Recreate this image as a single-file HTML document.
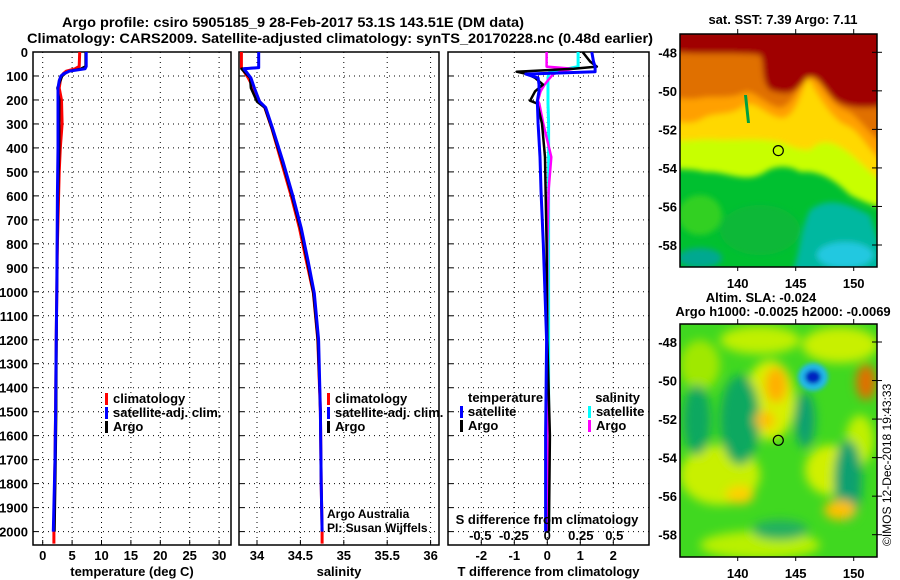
<!DOCTYPE html>
<html><head><meta charset="utf-8"><style>
body{margin:0;background:#fff;}
svg{display:block;font-family:"Liberation Sans",Arial,sans-serif;}
.t{font-size:13px;font-weight:bold;fill:#000;}
.grid{stroke:#000;stroke-width:1;stroke-dasharray:1,4;}
</style></head><body>
<svg id="fig" width="900" height="580" viewBox="0 0 900 580" xmlns="http://www.w3.org/2000/svg">
<defs>
<filter id="bl" x="-20%" y="-20%" width="140%" height="140%"><feGaussianBlur stdDeviation="3"/></filter>
<filter id="bl2" x="-20%" y="-20%" width="140%" height="140%"><feGaussianBlur stdDeviation="5"/></filter>
<filter id="bl3" x="-50%" y="-50%" width="200%" height="200%"><feGaussianBlur stdDeviation="2"/></filter>
<clipPath id="c1"><rect x="680" y="34" width="197" height="233"/></clipPath>
<clipPath id="c2"><rect x="680" y="324" width="197" height="233"/></clipPath>
</defs>
<text x="62" y="27" textLength="462" lengthAdjust="spacingAndGlyphs" style="font-size:14px;font-weight:bold">Argo profile: csiro 5905185_9 28-Feb-2017 53.1S 143.51E (DM data)</text>
<text x="27" y="43" textLength="626" lengthAdjust="spacingAndGlyphs" style="font-size:14px;font-weight:bold">Climatology: CARS2009. Satellite-adjusted climatology: synTS_20170228.nc (0.48d earlier)</text>

<!-- SST map -->
<g clip-path="url(#c1)">
<rect x="680" y="34" width="197" height="233" fill="#00c030"/>
<g filter="url(#bl)">
<path d="M670,30 H890 V210 C870,205 860,200 850,195 C835,180 820,170 800,172 C790,165 775,165 765,172 C745,185 725,170 705,172 C690,168 680,170 670,168Z" fill="#c8ff00"/>
<path d="M670,30 H890 V185 C870,175 860,160 845,150 C830,140 820,140 810,150 C795,150 790,145 780,142 C760,138 740,140 720,140 C700,138 690,142 670,140Z" fill="#ffd800"/>
<path d="M670,30 H890 V165 C870,158 862,130 845,125 C830,118 815,90 808,78 C800,95 795,120 780,118 C765,115 755,100 745,105 C730,118 715,110 700,120 C690,125 680,122 670,120Z" fill="#ffa000"/>
<path d="M670,30 H890 V145 C870,140 860,115 845,110 C830,105 820,80 810,70 C800,80 795,105 780,108 C765,105 755,90 745,92 C730,100 715,95 700,98 C690,100 680,98 670,98Z" fill="#e07000"/>
<path d="M670,30 H890 V105 C870,108 850,110 835,100 C825,90 815,70 805,80 C795,95 785,95 770,90 C760,80 765,60 760,55 C740,52 710,55 670,52Z" fill="#a00000"/>
<path d="M810,210 C830,195 850,205 870,215 L890,280 H790 C800,255 800,230 810,210Z" fill="#00b8a0"/>
<ellipse cx="845" cy="255" rx="28" ry="13" fill="#20c8e0"/>
<ellipse cx="700" cy="258" rx="22" ry="10" fill="#00a890"/>
<ellipse cx="700" cy="215" rx="22" ry="20" fill="#30d020"/>
<ellipse cx="760" cy="230" rx="40" ry="25" fill="#10b838"/>
</g>
<path d="M744,95 l3,28 l3,0 l-3,-28z" fill="#00a040"/>
</g>
<rect x="680" y="34" width="197" height="233" fill="none" stroke="#000" stroke-width="1.5"/>
<circle cx="778.3" cy="150.6" r="5" fill="none" stroke="#000" stroke-width="1.2"/>
<text class="t" x="783" y="24" text-anchor="middle">sat. SST: 7.39 Argo: 7.11</text>

<!-- SLA map -->
<g clip-path="url(#c2)">
<rect x="680" y="324" width="197" height="233" fill="#40d820"/>
<g filter="url(#bl2)">
<ellipse cx="720" cy="475" rx="40" ry="30" fill="#c8f000"/>
<ellipse cx="760" cy="545" rx="60" ry="14" fill="#b8f000"/>
<ellipse cx="840" cy="345" rx="38" ry="18" fill="#c8f000"/>
<ellipse cx="760" cy="340" rx="40" ry="14" fill="#c0f000"/>
<ellipse cx="700" cy="365" rx="20" ry="25" fill="#a0e800"/>
<ellipse cx="830" cy="470" rx="25" ry="25" fill="#d0f000"/>
<ellipse cx="770" cy="400" rx="25" ry="40" fill="#d8f000"/>
<ellipse cx="860" cy="440" rx="14" ry="25" fill="#c0f000"/>
<ellipse cx="740" cy="420" rx="20" ry="45" fill="#10a860"/>
<ellipse cx="697" cy="420" rx="14" ry="35" fill="#10a860"/>
<ellipse cx="805" cy="420" rx="10" ry="28" fill="#10a070"/>
<ellipse cx="848" cy="480" rx="14" ry="40" fill="#10a070"/>
<ellipse cx="780" cy="530" rx="28" ry="10" fill="#20b060"/>
<ellipse cx="776" cy="385" rx="11" ry="18" fill="#ffb000"/>
<ellipse cx="765" cy="420" rx="10" ry="9" fill="#ffc000"/>
<ellipse cx="840" cy="510" rx="16" ry="10" fill="#ffc000"/>
<ellipse cx="740" cy="495" rx="14" ry="9" fill="#ffd000"/>
<ellipse cx="866" cy="382" rx="10" ry="18" fill="#e07000"/>
</g>
<g filter="url(#bl3)">
<ellipse cx="813" cy="377" rx="15" ry="14" fill="#20b8e8"/>
<ellipse cx="813" cy="377" rx="8" ry="7" fill="#0020c0"/>
</g>
</g>
<rect x="680" y="324" width="197" height="233" fill="none" stroke="#000" stroke-width="1.5"/>
<circle cx="778.3" cy="440.3" r="5" fill="none" stroke="#000" stroke-width="1.2"/>
<text class="t" x="761" y="302" text-anchor="middle">Altim. SLA: -0.024</text>
<text class="t" x="783" y="316" text-anchor="middle">Argo h1000: -0.0025 h2000: -0.0069</text>
<text x="891" y="546" transform="rotate(-90 891 546)" style="font-size:12px">©IMOS 12-Dec-2018 19:43:33</text>
<g id="mapaxes"></g>
<g id="panels"></g>
</svg>
<script>
// ---------- data ----------
const depthT = [0,60,70,80,90,100,120,150,200,300,400,500,600,800,1000,1200,1500,1700,2000];
const argoT = [7.3,7.3,6.5,4.5,3.8,3.3,3.0,2.5,2.8,2.8,2.8,2.7,2.6,2.5,2.4,2.35,2.3,2.2,2.0];
const satT = [7.4,7.4,7.2,4.5,3.6,3.1,2.8,2.6,2.6,2.6,2.6,2.55,2.5,2.45,2.4,2.3,2.2,2.1,1.8];
const climT = [6.3,6.2,5.5,4.0,3.5,3.2,3.0,2.8,3.2,3.3,3.0,2.8,2.7,2.5,2.4,2.3,2.2,2.1,1.9];
const depthS = [0,65,70,108,150,207,232,318,457,596,735,874,1006,1200,1500,1800,2000];
const argoS = [34.02,34.02,33.82,33.92,33.93,34.0,34.09,34.17,34.29,34.40,34.50,34.58,34.65,34.70,34.73,34.74,34.75];
const satS = [34.02,34.02,33.85,33.93,33.97,34.03,34.10,34.18,34.30,34.41,34.51,34.59,34.66,34.71,34.73,34.74,34.75];
const climS = [33.82,33.82,33.83,33.9,33.96,34.03,34.09,34.17,34.28,34.39,34.49,34.57,34.65,34.70,34.73,34.74,34.75];
const depthD = [0,40,61,70,82,92,108,136,164,203,215,299,438,577,800,1200,1600,2000];
const dTargo = [1.07,1.3,1.5,0.8,-0.93,-0.6,-0.37,-0.13,-0.37,-0.52,-0.3,-0.16,-0.07,-0.05,-0.02,0.0,0.08,0.05];
const dTsat = [1.35,1.4,1.45,1.45,1.45,-0.65,-0.28,-0.25,-0.25,-0.3,-0.3,-0.28,-0.22,-0.19,-0.12,-0.02,-0.05,-0.05];
const dSargo = [-0.005,-0.005,-0.005,0.19,0.1,0.045,0.02,-0.02,-0.05,-0.07,-0.06,-0.03,0.03,0.01,0.0,0.0,0.0,0.005];
const dSsat = [0.23,0.23,0.23,0.15,0.02,0.01,0.005,0.005,0.005,0.005,0.005,0.01,0.01,0.01,0.01,0.01,0.01,0.01];
const depthTicks = [0,100,200,300,400,500,600,700,800,900,1000,1100,1200,1300,1400,1500,1600,1700,1800,1900,2000];
const tTicks = [0,5,10,15,20,25,30];
const sTicks = [34,34.5,35,35.5,36];
const sTickLabels = ["34","34.5","35","35.5","36"];
const dTTicks = [-2,-1,0,1,2];
const dSTicks = [-0.5,-0.25,0,0.25,0.5];
const dSTickLabels = ["-0.5","-0.25","0","0.25","0.5"];
const lonTicks = [140,145,150];
const latTicks = [-48,-50,-52,-54,-56,-58];

// ---------- scales ----------
const NS = "http://www.w3.org/2000/svg";
const TOP = 52, BOT = 545;
const yD = d => TOP + d * 0.2398;
const xT = v => 42.7 + v * 5.88;
const xS = v => 257 + (v - 34) * 86.8;
const xdT = v => 547.3 + v * 33;
const xdS = v => 547.3 + v * 134;
const xLon = v => 737.7 + (v - 140) * 11.6;
const yLat1 = v => 52.3 + (-48 - v) * 19.27;
const yLat2 = v => 342 + (-48 - v) * 19.27;
const P = document.getElementById('panels');
function el(tag, attrs, parent) {
  const e = document.createElementNS(NS, tag);
  for (const k in attrs) e.setAttribute(k, attrs[k]);
  (parent || P).appendChild(e);
  return e;
}
function txt(s, x, y, anchor, cls, parent) {
  const e = el('text', {x: x, y: y, 'text-anchor': anchor || 'start', class: cls || 't'}, parent);
  e.textContent = s;
  return e;
}
function panel(name, x0, x1, xs, ticks, labels, xlabel, leftLabels) {
  const g = el('g', {});
  
  
  ticks.forEach((t, i) => {
    el('line', {x1: xs(t), x2: xs(t), y1: TOP, y2: BOT, class: 'grid'}, g);
    el('line', {x1: xs(t), x2: xs(t), y1: BOT, y2: BOT - 5, stroke: '#000'}, g);
    const lb = txt(labels[i], xs(t), 560, 'middle', 't', g);
    
    
  });
  depthTicks.forEach(d => {
    el('line', {x1: x0, x2: x1, y1: yD(d), y2: yD(d), class: 'grid'}, g);
    el('line', {x1: x0, x2: x0 + 5, y1: yD(d), y2: yD(d), stroke: '#000'}, g);
    if (leftLabels) {
      const lb = txt(String(d), 28, yD(d) + 5, 'end', 't', g);
      
      
    }
  });
  el('rect', {x: x0, y: TOP, width: x1 - x0, height: BOT - TOP, fill: 'none', stroke: '#000', 'stroke-width': 1.5}, g);
  const xl = txt(xlabel, (x0 + x1) / 2, 576, 'middle', 't', g);
  
  
  return g;
}
function series(name, depths, vals, xs, color, w, g) {
  let d = '';
  vals.forEach((v, i) => { d += (i ? 'L' : 'M') + xs(v).toFixed(1) + ',' + yD(depths[i]).toFixed(1); });
  const p = el('path', {d: d, fill: 'none', stroke: color, 'stroke-width': w, 'stroke-linejoin': 'round'}, g);
  
  
}
function legend(items, x, y, g) {
  items.forEach((it, i) => {
    if (it[1]) el('rect', {x: x, y: y + i * 14 - 10, width: 3, height: 12, fill: it[1]}, g);
    const t = txt(it[0], x + 8, y + i * 14, 'start', 't', g);
    
    
  });
}

// temperature panel
const g1 = panel('temperature-panel', 33, 231, xT, tTicks, tTicks.map(String), 'temperature (deg C)', true);
series('climatology-temperature-line', depthT.concat([2050]), climT.concat([1.9]), xT, '#ff0000', 3, g1);
series('argo-temperature-line', depthT, argoT, xT, '#000000', 2.5, g1);
series('satellite-temperature-line', depthT, satT, xT, '#0000ff', 3, g1);
legend([['climatology', '#ff0000'], ['satellite-adj. clim.', '#0000ff'], ['Argo', '#000']], 105, 403, g1);

// salinity panel
const g2 = panel('salinity-panel', 239, 439, xS, sTicks, sTickLabels, 'salinity', false);
series('climatology-salinity-line', depthS.concat([2050]), climS.concat([34.75]), xS, '#ff0000', 3, g2);
series('argo-salinity-line', depthS, argoS, xS, '#000000', 2.5, g2);
series('satellite-salinity-line', depthS, satS, xS, '#0000ff', 3, g2);
legend([['climatology', '#ff0000'], ['satellite-adj. clim.', '#0000ff'], ['Argo', '#000']], 327, 403, g2);
const a1 = txt('Argo Australia', 327, 518, 'start', '', g2);
a1.setAttribute('style', 'font-size:12px');


const a2 = txt('PI: Susan Wijffels', 327, 532, 'start', '', g2);
a2.setAttribute('style', 'font-size:12px');



// difference panel
const g3 = panel('difference-panel', 448, 649, xdT, dTTicks, dTTicks.map(String), 'T difference from climatology', false);
series('satellite-salinity-diff-line', depthD, dSsat, xdS, '#00ffff', 3, g3);
series('argo-salinity-diff-line', depthD, dSargo, xdS, '#ff00ff', 2.5, g3);
series('argo-temperature-diff-line', depthD, dTargo, xdT, '#000000', 2.5, g3);
series('satellite-temperature-diff-line', depthD, dTsat, xdT, '#0000ff', 3, g3);
const lt = txt('temperature', 468, 402, 'start', 't', g3);


legend([['satellite', '#0000ff'], ['Argo', '#000']], 460, 416, g3);
const ls = txt('salinity', 640, 402, 'end', 't', g3);


legend([['satellite', '#00ffff'], ['Argo', '#ff00ff']], 588, 416, g3);
const sd = txt('S difference from climatology', 547, 524, 'middle', 't', g3);


dSTicks.forEach((t, i) => {
  const lb = txt(dSTickLabels[i], xdS(t), 540, 'middle', 't', g3);
  
  
});

// map axes
const M = document.getElementById('mapaxes');
[[yLat1, 34, 267], [yLat2, 324, 557]].forEach(m => {
  const yl = m[0];
  latTicks.forEach(l => {
    el('line', {x1: 877, x2: 872, y1: yl(l), y2: yl(l), stroke: '#000'}, M);
    el('line', {x1: 877, x2: 882, y1: yl(l), y2: yl(l), stroke: '#000'}, M);
    const lb = txt(String(l), 677, yl(l) + 5, 'end', 't', M);
    
    
  });
  lonTicks.forEach(l => {
    el('line', {x1: xLon(l), x2: xLon(l), y1: m[1], y2: m[1] - 5, stroke: '#000'}, M);
    el('line', {x1: xLon(l), x2: xLon(l), y1: m[2], y2: m[2] + 4, stroke: '#000'}, M);
    const lb = txt(String(l), xLon(l), m[2] + 21, 'middle', 't', M);
    
    
  });
});
</script>
</body></html>
